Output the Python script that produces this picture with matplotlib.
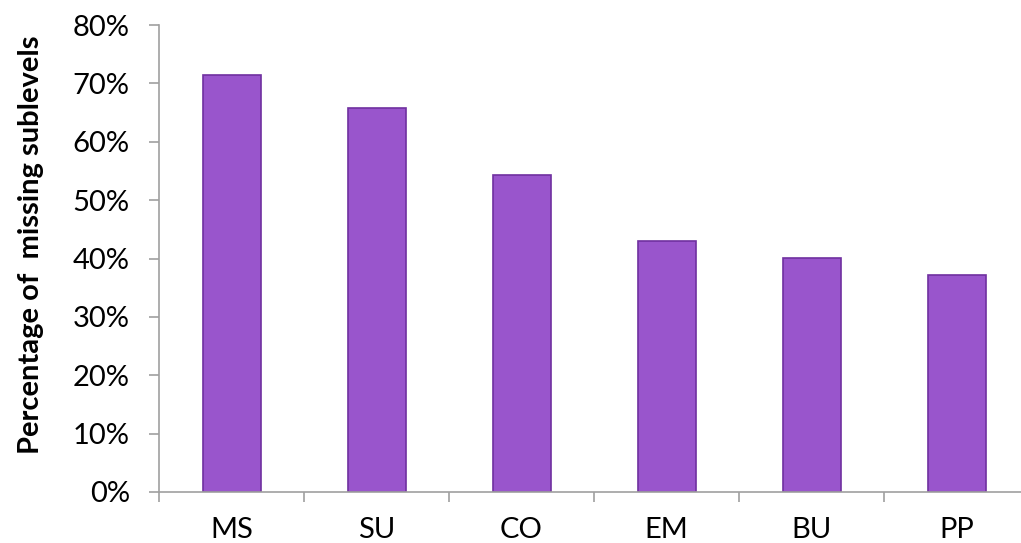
import numpy as np
import matplotlib
matplotlib.use("Agg")
import matplotlib.pyplot as plt
from matplotlib.ticker import PercentFormatter

categories = ["MS", "SU", "CO", "EM", "BU", "PP"]
missing_pct = [71.5, 65.8, 54.3, 43.0, 40.1, 37.2]
y_ticks = [0, 10, 20, 30, 40, 50, 60, 70, 80]

plt.rcParams['font.family'] = ['Lato', 'DejaVu Sans']

W, H = 1021, 543
fig = plt.figure(figsize=(W / 100, H / 100), dpi=100)
# axes box in pixel coords (left edge 159, bottom 492, top 25, right past the edge)
ax = fig.add_axes([159 / W, (H - 492) / H, (1029 - 159) / W, (492 - 25) / H])

x = np.arange(len(categories))
ax.bar(x, missing_pct, width=0.4, color="#9955CC", edgecolor="#7030A0", linewidth=1.2)

ax.set_xlim(-0.5, len(categories) - 0.5)
ax.set_ylim(0, 80)
ax.set_yticks(y_ticks)
ax.yaxis.set_major_formatter(PercentFormatter(decimals=0))

ax.set_xticks(x)
ax.set_xticklabels(categories)
ax.set_xticks(np.arange(len(categories) + 1) - 0.5, minor=True)
ax.tick_params(axis="x", which="major", length=0, pad=18, labelsize=21)
ax.tick_params(axis="x", which="minor", length=7, color="#A0A0A0", width=1.2)
ax.tick_params(axis="y", length=7, color="#A0A0A0", width=1.2, labelsize=21, pad=14)

for side in ["top", "right"]:
    ax.spines[side].set_visible(False)
for side in ["left", "bottom"]:
    ax.spines[side].set_color("#A0A0A0")
    ax.spines[side].set_linewidth(1.2)

ax.set_ylabel("Percentage of  missing sublevels", fontsize=21, fontweight="bold", labelpad=21)
ax.yaxis.label.set_y(0.53)

fig.savefig("out.png", dpi=100)
